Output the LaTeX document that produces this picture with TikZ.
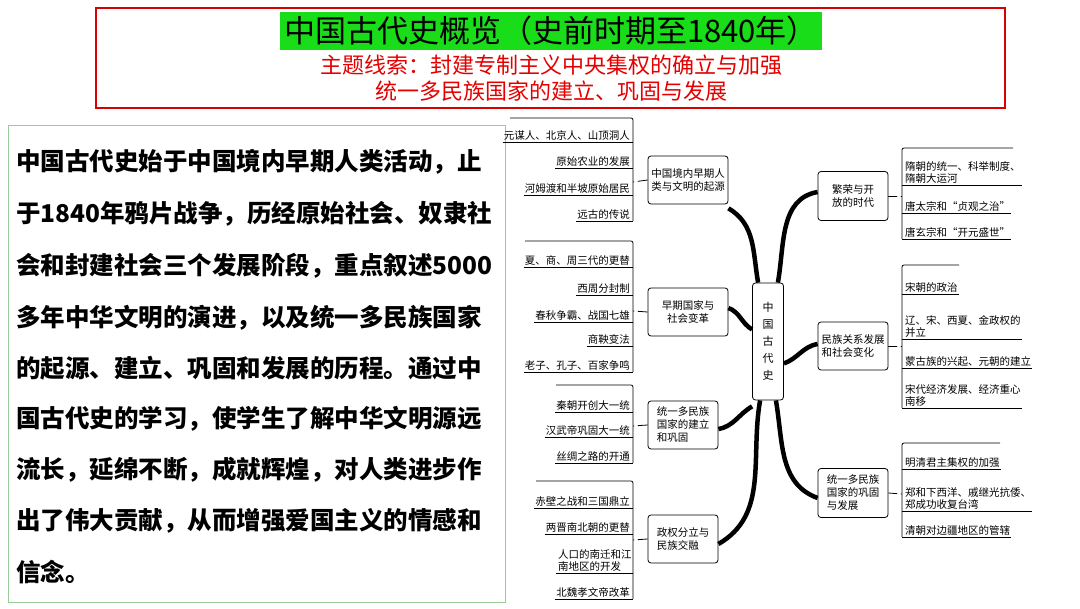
\documentclass[tikz,border=0pt]{standalone}
\usepackage{fontspec}
\setmainfont{Noto Sans CJK SC}
\begin{document}
\begin{tikzpicture}[x=1pt,y=-1pt,
 leaf/.style={inner sep=1pt,font=\fontsize{10.5}{12.5}\selectfont,align=left},
 br/.style={draw,rounded corners=3pt,thick,inner sep=2pt,font=\fontsize{10.5}{13}\selectfont,align=left},
 trunk/.style={line width=4.5pt},
 thin/.style={line width=0.8pt}]
\useasboundingbox (0,0) rectangle (1080,609);
\fill[white] (0,0) rectangle (1080,609);
% title
\draw[red!85!black,line width=1.2pt] (96,8) rectangle (1005,108);
\fill[green!85!black!90] (280,12) rectangle (822,50);
\node[font=\fontsize{31}{33}\selectfont] (title) at (551,31) {中国古代史概览（史前时期至1840年）};
\node[text=red!90!black,font=\fontsize{22}{26}\selectfont,align=center] (sub) at (551,78) {主题线索：封建专制主义中央集权的确立与加强\\统一多民族国家的建立、巩固与发展};
% left text
\draw[green!50!black!40,line width=0.8pt] (8,125) rectangle (505,602);
\foreach \t/\y [count=\i] in {中国古代史始于中国境内早期人类活动，止/162,于1840年鸦片战争，历经原始社会、奴隶社/214,会和封建社会三个发展阶段，重点叙述5000/266,多年中华文明的演进，以及统一多民族国家/318,的起源、建立、巩固和发展的历程。通过中/368,国古代史的学习，使学生了解中华文明源远/419,流长，延绵不断，成就辉煌，对人类进步作/470,出了伟大贡献，从而增强爱国主义的情感和/521,信念。/572}
  \node[anchor=west,inner sep=0pt,font=\bfseries\fontsize{24.5}{26}\selectfont] (p\i) at (16,\y) {\t};
% center
\node[draw,rounded corners=3pt,thick,minimum width=31pt,minimum height=117pt,inner sep=0pt,font=\fontsize{11}{17}\selectfont,align=center] (c) at (768,341.5) {中\\国\\古\\代\\史};
% branches
\node[br,minimum width=80pt,minimum height=48pt] (b1) at (688,180) {中国境内早期人\\类与文明的起源};
\node[br,minimum width=80pt,minimum height=48pt,align=center] (b2) at (688,312) {早期国家与\\社会变革};
\node[br,minimum width=70pt,minimum height=48pt] (b3) at (683,425) {统一多民族\\国家的建立\\和巩固};
\node[br,minimum width=70pt,minimum height=48pt] (b4) at (683,539) {政权分立与\\民族交融};
\node[br,minimum width=70pt,minimum height=49pt,align=center] (b5) at (853,196) {繁荣与开\\放的时代};
\node[br,minimum width=70pt,minimum height=48pt] (b6) at (853,346) {民族关系发展\\和社会变化};
\node[br,minimum width=70pt,minimum height=49pt] (b7) at (853,493) {统一多民族\\国家的巩固\\与发展};
% trunks
\draw[trunk] ([xshift=6pt]c.north west) to[out=100,in=-30] ([yshift=-4pt]b1.south east);
\draw[trunk] ([yshift=12pt]c.west) to[out=150,in=-20] ([yshift=4pt]b2.east);
\draw[trunk] ([yshift=-6pt]c.south west) to[out=-150,in=10] ([yshift=-4pt]b3.east);
\draw[trunk] ([xshift=8pt]c.south west) to[out=-100,in=30] ([yshift=-5pt]b4.east);
\draw[trunk] ([xshift=-6pt]c.north east) to[out=80,in=190] ([yshift=4pt]b5.west);
\draw[trunk] ([yshift=-22pt]c.east) to[out=20,in=190] ([yshift=2pt]b6.west);
\draw[trunk] ([xshift=-8pt]c.south east) to[out=-80,in=160] ([yshift=-5pt]b7.west);
\newcommand\lleaf[3]{\node[leaf,anchor=south east] (#1) at (631,#2) {#3}; \draw[thin] (#1.south west) -- (633,#2);}
\newcommand\rleaf[3]{\node[leaf,anchor=south west] (#1) at (904,#2) {#3}; \draw[thin] (902,#2) -- (#1.south east);}
% B1
\lleaf{a1}{142}{元谋人、北京人、山顶洞人}\lleaf{a2}{168}{原始农业的发展}\lleaf{a3}{195}{河姆渡和半坡原始居民}\lleaf{a4}{221}{远古的传说}
\draw[thin,rounded corners=2pt] (510,118) -- (633,118) -- (633,221);
\draw[thin] (633,182) -- (b1.west); \fill[white,draw,thin] (636,182) circle (1.6pt);
% B2
\lleaf{d1}{267}{夏、商、周三代的更替}\lleaf{d2}{295}{西周分封制}\lleaf{d3}{322}{春秋争霸、战国七雄}\lleaf{d4}{346}{商鞅变法}\lleaf{d5}{372}{老子、孔子、百家争鸣}
\draw[thin,rounded corners=2pt] (525,241) -- (633,241) -- (633,372);
\draw[thin] (633,311) -- (b2.west); \fill[white,draw,thin] (636,311) circle (1.6pt);
% B3
\lleaf{e1}{412}{秦朝开创大一统}\lleaf{e2}{437}{汉武帝巩固大一统}\lleaf{e3}{463}{丝绸之路的开通}
\draw[thin,rounded corners=2pt] (556,385) -- (633,385) -- (633,463);
\draw[thin] (633,426) -- (b3.west); \fill[white,draw,thin] (636,426) circle (1.6pt);
% B4
\lleaf{f1}{508}{赤壁之战和三国鼎立}\lleaf{f2}{534}{两晋南北朝的更替}
\node[leaf,anchor=south west] (f3) at (557,573) {人口的南迁和江\\南地区的开发}; \draw[thin] (556,573) -- (633,573);
\lleaf{f4}{599}{北魏孝文帝改革}
\draw[thin,rounded corners=2pt] (536,481) -- (633,481) -- (633,599);
\draw[thin] (633,540) -- (b4.west); \fill[white,draw,thin] (636,540) circle (1.6pt);
% B5
\rleaf{g1}{185}{隋朝的统一、科举制度、\\隋朝大运河}\rleaf{g2}{213}{唐太宗和“贞观之治”}\rleaf{g3}{239}{唐玄宗和“开元盛世”}
\draw[thin,rounded corners=2pt] (1013,148) -- (902,148) -- (902,239);
\draw[thin] (b5.east) -- (902,196); \fill[white,draw,thin] (899,196) circle (1.6pt);
% B6
\rleaf{h1}{294}{宋朝的政治}\rleaf{h2}{339}{辽、宋、西夏、金政权的\\并立}\rleaf{h3}{368}{蒙古族的兴起、元朝的建立}\rleaf{h4}{408}{宋代经济发展、经济重心\\南移}
\draw[thin,rounded corners=2pt] (959,265) -- (902,265) -- (902,408);
\draw[thin] (b6.east) -- (902,346); \fill[white,draw,thin] (899,346) circle (1.6pt);
% B7
\rleaf{k1}{469}{明清君主集权的加强}\rleaf{k2}{511}{郑和下西洋、戚继光抗倭、\\郑成功收复台湾}\rleaf{k3}{537}{清朝对边疆地区的管辖}
\draw[thin,rounded corners=2pt] (1000,443) -- (902,443) -- (902,537);
\draw[thin] (b7.east) -- (902,494); \fill[white,draw,thin] (899,494) circle (1.6pt);
\end{tikzpicture}
\end{document}
